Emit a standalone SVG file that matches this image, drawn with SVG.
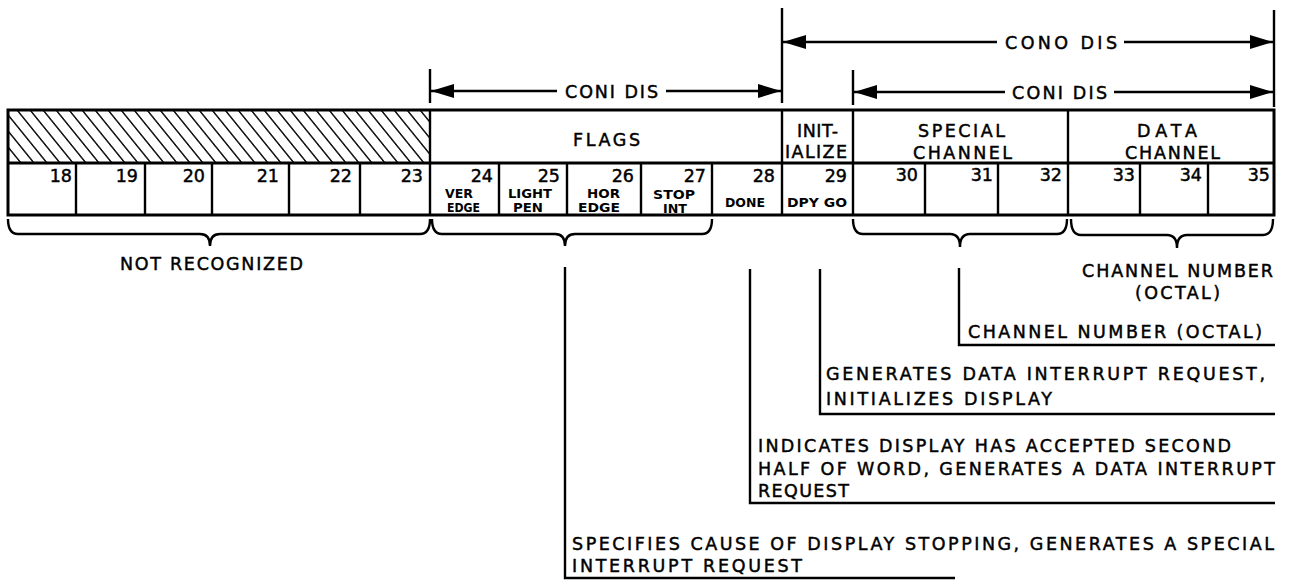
<svg xmlns="http://www.w3.org/2000/svg" width="1295" height="580" viewBox="0 0 1295 580">
<style>
.ln{stroke:#000;stroke-width:2.4;fill:none}
.bx{stroke:#000;stroke-width:3;fill:none}
.t{font-family:"DejaVu Sans","Liberation Sans",Arial,sans-serif;font-size:17.5px;fill:#000;stroke:#000;stroke-width:0.45}
.n{font-family:"DejaVu Sans","Liberation Sans",Arial,sans-serif;font-size:17.5px;fill:#000;stroke:#000;stroke-width:0.45;text-anchor:end}
.s{font-family:"DejaVu Sans","Liberation Sans",Arial,sans-serif;font-size:12px;font-weight:bold;fill:#000}
</style>
<defs>
<marker id="ah" viewBox="0 0 23 14" refX="23" refY="7" markerWidth="23" markerHeight="14" markerUnits="userSpaceOnUse" orient="auto-start-reverse" preserveAspectRatio="none">
<path d="M0,0 L23,7 L0,14 z" fill="#000"/>
</marker>
<pattern id="hatch" width="13" height="20" patternUnits="userSpaceOnUse" patternTransform="skewX(39)">
<line x1="6" y1="-2" x2="6" y2="22" stroke="#000" stroke-width="1.8"/>
</pattern>
</defs>
<rect width="1295" height="580" fill="#fff"/>

<g id="dimensions">
<line class="ln" x1="430" y1="69" x2="430" y2="103"/>
<line class="ln" x1="782" y1="8" x2="782" y2="103"/>
<line class="ln" x1="853" y1="70" x2="853" y2="105"/>
<line class="ln" x1="1274" y1="10" x2="1274" y2="107"/>
<path class="ln" d="M557,91 H431" marker-end="url(#ah)"/>
<path class="ln" d="M666,91 H781" marker-end="url(#ah)"/>
<text class="t" x="565" y="98" textLength="93" lengthAdjust="spacing">CONI DIS</text>
<path class="ln" d="M997,42 H783" marker-end="url(#ah)"/>
<path class="ln" d="M1124,42 H1273" marker-end="url(#ah)"/>
<text class="t" x="1005" y="49" textLength="112" lengthAdjust="spacing">CONO DIS</text>
<path class="ln" d="M1005,92 H854" marker-end="url(#ah)"/>
<path class="ln" d="M1114,92 H1273" marker-end="url(#ah)"/>
<text class="t" x="1012" y="99" textLength="95" lengthAdjust="spacing">CONI DIS</text>
</g>

<g id="register">
<rect x="8" y="110" width="422" height="53" fill="url(#hatch)"/>
<rect class="bx" x="8" y="110" width="1266" height="105"/>
<line class="bx" x1="8" y1="163" x2="1274" y2="163"/>
<g class="ln">
<line x1="430" y1="110" x2="430" y2="215"/>
<line x1="782" y1="110" x2="782" y2="215"/>
<line x1="853" y1="110" x2="853" y2="215"/>
<line x1="1068" y1="110" x2="1068" y2="215"/>
<line x1="76" y1="163" x2="76" y2="215"/>
<line x1="145" y1="163" x2="145" y2="215"/>
<line x1="212" y1="163" x2="212" y2="215"/>
<line x1="289" y1="163" x2="289" y2="215"/>
<line x1="360" y1="163" x2="360" y2="215"/>
<line x1="499" y1="163" x2="499" y2="215"/>
<line x1="567" y1="163" x2="567" y2="215"/>
<line x1="641" y1="163" x2="641" y2="215"/>
<line x1="712" y1="163" x2="712" y2="215"/>
<line x1="925" y1="163" x2="925" y2="215"/>
<line x1="998" y1="163" x2="998" y2="215"/>
<line x1="1140" y1="163" x2="1140" y2="215"/>
<line x1="1208" y1="163" x2="1208" y2="215"/>
</g>
</g>

<g id="fields">
<text class="t" x="573" y="146" textLength="67" lengthAdjust="spacing">FLAGS</text>
<text class="t" x="797" y="137" textLength="41" lengthAdjust="spacing">INIT-</text>
<text class="t" x="785" y="158" textLength="62" lengthAdjust="spacing">IALIZE</text>
<text class="t" x="918" y="137" textLength="87" lengthAdjust="spacing">SPECIAL</text>
<text class="t" x="913" y="159" textLength="99" lengthAdjust="spacing">CHANNEL</text>
<text class="t" x="1137" y="137" textLength="60" lengthAdjust="spacing">DATA</text>
<text class="t" x="1125" y="159" textLength="95" lengthAdjust="spacing">CHANNEL</text>
</g>

<g id="bits">
<text class="n" x="72" y="182">18</text>
<text class="n" x="138" y="182">19</text>
<text class="n" x="205" y="182">20</text>
<text class="n" x="279" y="182">21</text>
<text class="n" x="352" y="182">22</text>
<text class="n" x="423" y="182">23</text>
<text class="n" x="493" y="182">24</text>
<text class="n" x="560" y="182">25</text>
<text class="n" x="634" y="182">26</text>
<text class="n" x="706" y="182">27</text>
<text class="n" x="775" y="182">28</text>
<text class="n" x="847" y="182">29</text>
<text class="n" x="918" y="181">30</text>
<text class="n" x="993" y="181">31</text>
<text class="n" x="1062" y="181">32</text>
<text class="n" x="1135" y="181">33</text>
<text class="n" x="1202" y="181">34</text>
<text class="n" x="1270" y="181">35</text>
<text class="s" x="445" y="198" textLength="28" lengthAdjust="spacingAndGlyphs">VER</text>
<text class="s" x="447" y="212" textLength="33" lengthAdjust="spacingAndGlyphs">EDGE</text>
<text class="s" x="508" y="198" textLength="44" lengthAdjust="spacingAndGlyphs">LIGHT</text>
<text class="s" x="513" y="212" textLength="30" lengthAdjust="spacingAndGlyphs">PEN</text>
<text class="s" x="587" y="198" textLength="33" lengthAdjust="spacingAndGlyphs">HOR</text>
<text class="s" x="578" y="212" textLength="42" lengthAdjust="spacingAndGlyphs">EDGE</text>
<text class="s" x="653" y="199" textLength="42" lengthAdjust="spacingAndGlyphs">STOP</text>
<text class="s" x="663" y="213" textLength="24" lengthAdjust="spacingAndGlyphs">INT</text>
<text class="s" x="725" y="207" textLength="40" lengthAdjust="spacingAndGlyphs">DONE</text>
<text class="s" x="787" y="207" textLength="60" lengthAdjust="spacingAndGlyphs">DPY GO</text>
</g>

<g id="braces" class="ln">
<path d="M8,219 Q8,234 18,234 L200,234 Q210,234 210,246 Q210,234 220,234 L420,234 Q430,234 430,219"/>
<path d="M432,219 Q432,234 442,234 L555,234 Q565,234 565,246 Q565,234 575,234 L702,234 Q712,234 712,219"/>
<path d="M853,219 Q853,234 863,234 L950,234 Q960,234 960,247 Q960,234 970,234 L1057,234 Q1067,234 1067,219"/>
<path d="M1071,219 Q1071,235 1081,235 L1167,235 Q1177,235 1177,248 Q1177,235 1187,235 L1263,235 Q1273,235 1273,219"/>
</g>

<g id="connectors" class="ln">
<path d="M565,267 V578 H955"/>
<path d="M750,269 V503 H1275"/>
<path d="M820,269 V414 H1275"/>
<path d="M959,268 V345 H1275"/>
</g>

<g id="notes">
<text class="t" x="120" y="270" textLength="183" lengthAdjust="spacing">NOT RECOGNIZED</text>
<text class="t" x="1082" y="277" textLength="191" lengthAdjust="spacing">CHANNEL NUMBER</text>
<text class="t" x="1135" y="299" textLength="85" lengthAdjust="spacing">(OCTAL)</text>
<text class="t" x="968" y="338" textLength="294" lengthAdjust="spacing">CHANNEL NUMBER (OCTAL)</text>
<text class="t" x="826" y="380" textLength="439" lengthAdjust="spacing">GENERATES DATA INTERRUPT REQUEST,</text>
<text class="t" x="826" y="405" textLength="226" lengthAdjust="spacing">INITIALIZES DISPLAY</text>
<text class="t" x="758" y="452" textLength="473" lengthAdjust="spacing">INDICATES DISPLAY HAS ACCEPTED SECOND</text>
<text class="t" x="758" y="475" textLength="517" lengthAdjust="spacing">HALF OF WORD, GENERATES A DATA INTERRUPT</text>
<text class="t" x="758" y="497" textLength="91" lengthAdjust="spacing">REQUEST</text>
<text class="t" x="572" y="550" textLength="702" lengthAdjust="spacing">SPECIFIES CAUSE OF DISPLAY STOPPING, GENERATES A SPECIAL</text>
<text class="t" x="572" y="572" textLength="230" lengthAdjust="spacing">INTERRUPT REQUEST</text>
</g>
</svg>
